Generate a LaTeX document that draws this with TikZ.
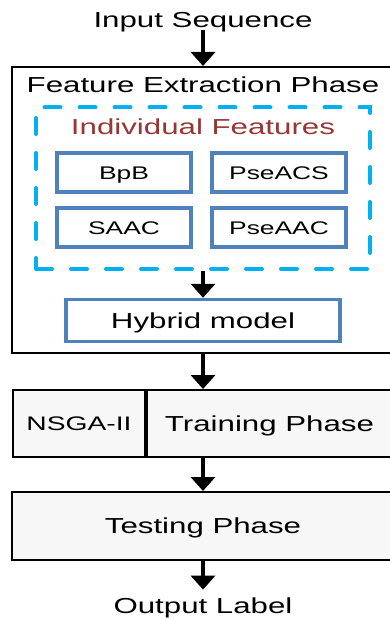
\documentclass[tikz,border=0pt]{standalone}
\usepackage{fontspec}
\setmainfont{Liberation Sans}[FakeStretch=1.44]
\usetikzlibrary{arrows.meta}
\definecolor{boxblue}{HTML}{4F81BD}
\definecolor{dashcyan}{HTML}{00B0F0}
\definecolor{darkred}{HTML}{953735}
\definecolor{lightfill}{HTML}{F7F7F7}
\begin{document}
\begin{tikzpicture}[x=1pt,y=-1pt,
  bigtxt/.style={font=\fontsize{21.7}{24}\selectfont},
  smalltxt/.style={font=\fontsize{18.3}{21}\selectfont},
  outerbox/.style={draw=black,line width=2pt,fill=white,inner sep=0pt},
  phasebox/.style={draw=black,line width=2pt,fill=lightfill,inner sep=0pt,text height=15.5pt,text depth=0pt,bigtxt},
  featbox/.style={draw=boxblue,line width=3.5pt,fill=white,inner sep=0pt,minimum width=134pt,minimum height=39pt,text height=13.1pt,text depth=0pt,smalltxt},
  groupbox/.style={draw=dashcyan,line width=4pt,dash pattern=on 16pt off 19pt,line cap=round,inner sep=0pt},
  flow/.style={line width=4pt,-{Triangle[width=24pt,length=14pt]}},
  lbl/.style={bigtxt,anchor=base,inner sep=0pt,text height=15.5pt,text depth=0pt}
]
\useasboundingbox (0,0) rectangle (390,620);
\clip (0,0) rectangle (390,620);

% input label
\node[lbl,inner ysep=3pt] (inp) at (203,27.3) {Input Sequence};

% feature extraction phase
\node[outerbox,minimum width=382pt,minimum height=286pt] (fe) at (203,210) {};
\node[lbl] (fetitle) at (203,92.3) {Feature Extraction Phase};
\node[groupbox,minimum width=334pt,minimum height=161.5pt] (indiv) at (203,188.25) {};
\node[lbl,text=darkred] (indivtitle) at (203,135) {Individual Features};
\node[featbox] (bpb) at (124,172.5) {BpB};
\node[featbox] (pseacs) at (279,172.5) {PseACS};
\node[featbox] (saac) at (124,227.5) {SAAC};
\node[featbox] (pseaac) at (279,227.5) {PseAAC};
\node[featbox,minimum width=274pt,minimum height=42pt,bigtxt,text height=15.5pt] (hyb) at (203,320.5) {Hybrid model};

% training phase
\node[phasebox,minimum width=132pt,minimum height=67pt,font=\fontsize{19.6}{22}\selectfont,text height=14pt] (nsga) at (79,423.5) {NSGA-II};
\node[phasebox,minimum width=249pt,minimum height=67pt] (train) at (269.5,423.5) {Training Phase};
\draw[line width=3.5pt] (nsga.north east) -- (nsga.south east);

% testing phase
\node[phasebox,minimum width=382pt,minimum height=68pt] (test) at (203,526) {Testing Phase};

% output label
\node[lbl,inner ysep=8pt] (out) at (203,613.3) {Output Label};

% connectors
\draw[flow] (inp.south) -- (fe.north);
\draw[flow] (indiv.south) -- (hyb.north);
\draw[flow] (fe.south) -- (fe.south |- train.north);
\draw[flow] (test.north |- train.south) -- (test.north);
\draw[flow] (test.south) -- (out.north);
\end{tikzpicture}
\end{document}
